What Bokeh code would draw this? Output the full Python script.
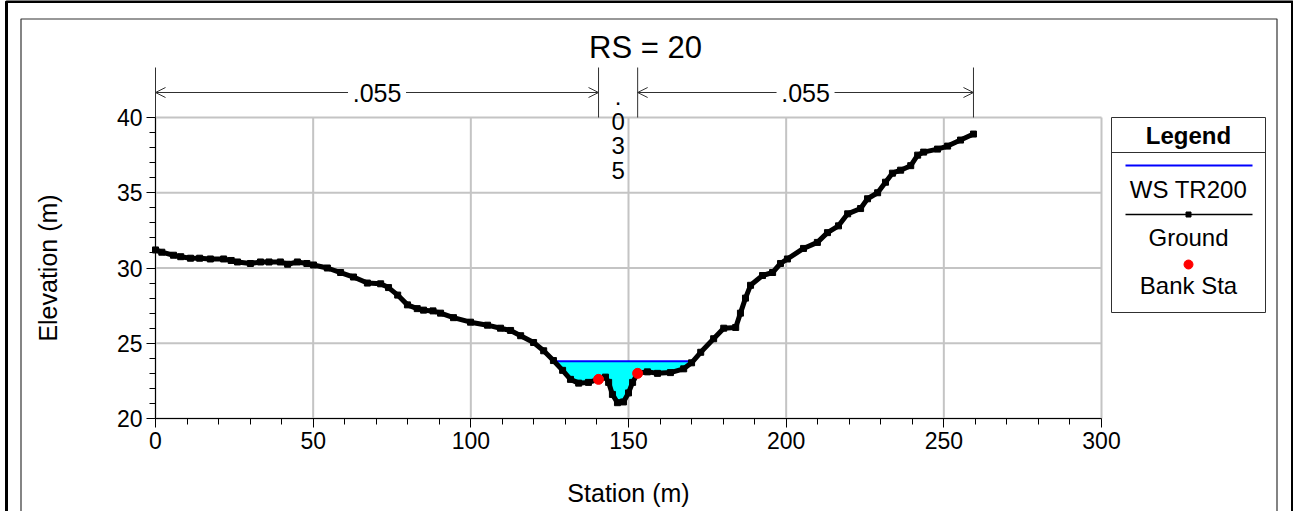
from bokeh.plotting import figure
from bokeh.models import Range1d, LinearAxis, FixedTicker
from bokeh.embed import file_html
from bokeh.resources import INLINE
from bokeh.core.properties import value
import numpy as np

# ---- Cross section RS 20: ground survey (station m, elevation m) ----
station = [0, 2, 5.7, 8, 11.1, 14, 17.4, 21.6, 24, 26, 30.1, 33.3, 36, 39.6, 41.9,
           45, 48, 50.1, 54.5, 58.7, 62.8, 67.2, 71.4, 73.9, 76.8, 79.9, 83, 85,
           88, 90.4, 94.5, 99.9, 105.3, 109.4, 112.6, 115.8, 119.9, 123.1, 126.2,
           129.1, 131.6, 134.2, 137.3, 140.5, 142.7, 143.7, 144.9, 146.5, 148.4,
           150, 151.3, 152.9, 156, 159.2, 163.3, 167.5, 170, 172.9, 177, 180.2,
           184, 185.5, 187.1, 188.7, 192.5, 195.7, 198.2, 200.4, 205.5, 209.9,
           213.1, 216.6, 219.5, 223.6, 225.8, 229, 231.5, 233.7, 236.3, 239.5,
           241.7, 243.6, 248, 251.2, 255.3, 259.4]
elevation = [31.2, 31.05, 30.85, 30.75, 30.65, 30.65, 30.6, 30.6, 30.5, 30.4, 30.3,
             30.4, 30.4, 30.4, 30.25, 30.4, 30.3, 30.2, 30.0, 29.7, 29.4, 29.0,
             28.95, 28.7, 28.2, 27.55, 27.3, 27.2, 27.15, 27.0, 26.7, 26.4, 26.2,
             26.0, 25.85, 25.5, 25.05, 24.5, 23.85, 23.2, 22.6, 22.35, 22.4, 22.6,
             22.75, 22.4, 21.6, 21.05, 21.1, 21.7, 22.4, 23.0, 23.1, 23.0, 23.05,
             23.3, 23.7, 24.4, 25.3, 26.0, 26.05, 27.0, 28.0, 28.85, 29.5, 29.7,
             30.3, 30.6, 31.3, 31.7, 32.35, 32.8, 33.6, 33.95, 34.6, 35.0, 35.7,
             36.3, 36.5, 36.8, 37.5, 37.7, 37.9, 38.1, 38.5, 38.9]
bank_sta = [140.5, 152.9]            # left / right bank stations
ws_tr200 = 23.8                      # water surface, TR200 profile
n_values = [".055", ".035", ".055"]  # Manning's n: LOB, channel, ROB
x_ticks = [0, 50, 100, 150, 200, 250, 300]
y_ticks = [20, 25, 30, 35, 40]
x_minor = [v for v in range(10, 300, 10) if v % 50]
y_minor = [v for v in range(21, 40) if v % 5]

FONT = "Liberation Sans"
W, H = 1293, 511

# page-pixel placement of the plotting area (x 0..300, y 20..40)
PX_X0, PX_X1 = 155, 1101
PX_Y1, PX_Y0 = 117, 418
KX = (x_ticks[-1] - x_ticks[0]) / (PX_X1 - PX_X0)
KY = (y_ticks[-1] - y_ticks[0]) / (PX_Y0 - PX_Y1)


def sx(px):
    return x_ticks[0] + (px - PX_X0) * KX


def sy(py):
    return y_ticks[-1] - (py - PX_Y1) * KY


p = figure(width=W, height=H, output_backend="svg", toolbar_location=None,
           x_axis_location=None, y_axis_location=None, title_location=None,
           x_range=Range1d(sx(0), sx(W)), y_range=Range1d(sy(H), sy(0)),
           min_border=0)
p.outline_line_color = None
p.background_fill_color = "white"
p.border_fill_color = "white"
p.xgrid.visible = False
p.ygrid.visible = False

# ---- grid ----
GRID = "#c4c4c4"
p.segment(x0=x_ticks, y0=[y_ticks[0]] * len(x_ticks), x1=x_ticks,
          y1=[y_ticks[-1]] * len(x_ticks), line_color=GRID, line_width=2,
          level="underlay")
p.segment(x0=[x_ticks[0]] * len(y_ticks), y0=y_ticks, x1=[x_ticks[-1]] * len(y_ticks),
          y1=y_ticks, line_color=GRID, line_width=2, level="underlay")

# ---- axes ----
def style_axis(ax):
    ax.axis_line_color = "black"
    ax.axis_line_width = 1
    ax.major_tick_line_color = "black"
    ax.minor_tick_line_color = "black"
    ax.major_tick_in = 0
    ax.minor_tick_in = 0
    ax.major_tick_out = 9
    ax.minor_tick_out = 6
    ax.major_label_text_font = FONT
    ax.major_label_text_font_size = "23px"
    ax.major_label_text_color = "black"
    ax.axis_label_text_font = FONT
    ax.axis_label_text_font_size = "25px"
    ax.axis_label_text_font_style = "normal"
    ax.axis_label_text_color = "black"


yaxis = LinearAxis(fixed_location=x_ticks[0], bounds=(y_ticks[0], y_ticks[-1]),
                   ticker=FixedTicker(ticks=y_ticks, minor_ticks=y_minor),
                   axis_label="Elevation (m)")
style_axis(yaxis)
yaxis.major_label_standoff = 4
yaxis.axis_label_standoff = 52
p.add_layout(yaxis, "left")

xaxis = LinearAxis(fixed_location=y_ticks[0], bounds=(x_ticks[0], x_ticks[-1]),
                   ticker=FixedTicker(ticks=x_ticks, minor_ticks=x_minor),
                   axis_label="Station (m)")
style_axis(xaxis)
xaxis.major_label_standoff = 4
xaxis.axis_label_standoff = 27
p.add_layout(xaxis, "below")

# ---- water surface fill between WS and ground ----
st = np.array(station, dtype=float)
el = np.array(elevation, dtype=float)
wet = el < ws_tr200
cross = [i for i in range(len(st) - 1) if wet[i] != wet[i + 1]]
i0, i1 = cross[0], cross[-1]


def crossing(i):
    t = (el[i] - ws_tr200) / (el[i] - el[i + 1])
    return st[i] + (st[i + 1] - st[i]) * t


xl, xr = crossing(i0), crossing(i1)
wet_x = [xl] + list(st[i0 + 1:i1 + 1]) + [xr]
wet_y = [ws_tr200] + list(el[i0 + 1:i1 + 1]) + [ws_tr200]
p.patch(wet_x, wet_y, fill_color="#00ffff", line_color=None)
p.line([xl, xr], [ws_tr200, ws_tr200], line_color="#0000ff", line_width=2)

# ---- ground ----
p.line(station, elevation, line_color="black", line_width=5, line_join="round")
p.scatter(station, elevation, marker="square", size=6, fill_color="black",
          line_color="black")
bank_el = list(np.interp(bank_sta, st, el))
p.scatter(bank_sta, bank_el, size=10, fill_color="#ff0000", line_color="#ff0000")

# ---- Manning's n extents above the section ----
TXT = dict(text_font=value(FONT), text_color="black")
INK = "#303030"
y_top = y_ticks[-1]
y_tick_top = sy(67)
y_arrow = sy(92)
edges = [station[0], bank_sta[0], bank_sta[1], station[-1]]
p.segment(x0=edges, y0=[y_top] * 4, x1=edges, y1=[y_tick_top] * 4,
          line_color=INK, line_width=1)

head_dx, head_dy = 10 * KX, 5 * KY
gap = 58 * KX
for a, b, lab in [(edges[0], edges[1], n_values[0]), (edges[2], edges[3], n_values[2])]:
    mid = (a + b) / 2
    p.multi_line(xs=[[a, mid - gap / 2], [mid + gap / 2, b],
                     [a + head_dx, a, a + head_dx], [b - head_dx, b, b - head_dx]],
                 ys=[[y_arrow, y_arrow], [y_arrow, y_arrow],
                     [y_arrow + head_dy, y_arrow, y_arrow - head_dy],
                     [y_arrow + head_dy, y_arrow, y_arrow - head_dy]],
                 line_color=INK, line_width=1)
    p.text(x=[mid], y=[y_arrow], text=[lab], text_font_size="25px",
           text_align="center", text_baseline="middle", **TXT)

# channel value stacked one character per line (too narrow for one line)
ch_mid = (edges[1] + edges[2]) / 2
ch_chars = list(n_values[1])
p.text(x=[ch_mid] * len(ch_chars), y=[sy(96 + 24.5 * k) for k in range(len(ch_chars))],
       text=ch_chars, text_font_size="24px", text_align="center",
       text_baseline="alphabetic", **TXT)

# ---- title ----
p.text(x=[sx(645)], y=[sy(47)], text=["RS = 20"], text_font_size="31px",
       text_align="center", text_baseline="middle", **TXT)

# ---- legend ----
LX0, LX1, LY0, LY1 = sx(1111), sx(1265), sy(117), sy(312)
p.quad(left=[LX0], right=[LX1], top=[LY0], bottom=[LY1], fill_color="white",
       line_color=INK, line_width=1)
p.line([LX0, LX1], [sy(152), sy(152)], line_color=INK, line_width=1)
lcx = (LX0 + LX1) / 2
p.text(x=[lcx], y=[sy(135)], text=["Legend"], text_font_size="24px",
       text_font_style="bold", text_align="center", text_baseline="middle", **TXT)
p.line([sx(1125), sx(1252)], [sy(165), sy(165)], line_color="#0000ff", line_width=2)
p.line([sx(1125), sx(1252)], [sy(214), sy(214)], line_color="black", line_width=1.5)
p.scatter([lcx], [sy(214)], marker="square", size=5, fill_color="black",
          line_color="black")
p.scatter([lcx], [sy(264)], size=9, fill_color="#ff0000", line_color="#ff0000")
p.text(x=[lcx] * 3, y=[sy(189), sy(237), sy(285)],
       text=["WS TR200", "Ground", "Bank Sta"], text_font_size="24px",
       text_align="center", text_baseline="middle", **TXT)

# ---- window frames ----
p.multi_line(xs=[[sx(6), sx(6), sx(1292), sx(1292)]],
             ys=[[sy(H), sy(1), sy(1), sy(H)]], line_color="black", line_width=3)
p.multi_line(xs=[[sx(20.5), sx(20.5), sx(1276.5), sx(1276.5)]],
             ys=[[sy(H), sy(18.5), sy(18.5), sy(H)]], line_color="#333333",
             line_width=1.2)

open("out.html", "w").write(file_html(p, INLINE))
